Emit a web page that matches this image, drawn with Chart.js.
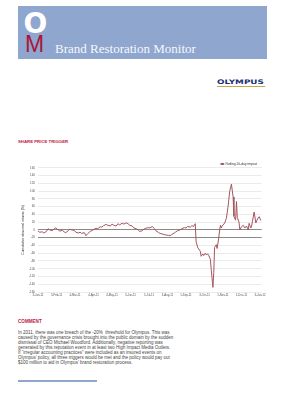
<!DOCTYPE html>
<html>
<head>
<meta charset="utf-8">
<script src="https://cdn.jsdelivr.net/npm/chart.js@4/dist/chart.umd.min.js"></script>
<style>
html, body { margin: 0; padding: 0; background: #fff; }
body { width: 284px; height: 400px; position: relative; overflow: hidden; font-family: "Liberation Sans", Arial, sans-serif; }
.abs { position: absolute; white-space: nowrap; }
#banner { left: 18px; top: 6px; width: 249px; height: 53px; background: #8fa6ce; }
#logoO { left: 23.6px; top: 9.6px; font: bold 28px/28px "DejaVu Sans", sans-serif; color: #fff; }
#logoM { left: 25px; top: 33.2px; font: 23px/23px "Liberation Sans", sans-serif; color: #a8173a; }
#bannerTitle { left: 55px; top: 41.8px; font: 13px/13px "Liberation Serif", serif; color: #f6f8fc; }
#olympus { left: 216.7px; top: 79.2px; font: bold 6.3px/6.3px "DejaVu Sans", sans-serif; color: #1d2f6f; transform: scaleX(1.4); transform-origin: left top; }
#olyLine { left: 217px; top: 85.5px; width: 48px; height: 1px; background: #c9a84a; }
.head { font: bold 4.3px/5px "Liberation Sans", sans-serif; color: #c0203f; }
#trigger { left: 18px; top: 138.5px; }
#comment { left: 18px; top: 318.5px; font-size: 4.6px; }
#body { left: 18px; top: 330.2px; font: 4.5px/5px "Liberation Sans", sans-serif; color: #444; }
#rule { left: 18px; top: 380px; width: 79px; height: 2px; background: #8fa6ce; }
#chartBox { left: 0; top: 150px; width: 284px; height: 160px; }
</style>
</head>
<body>
<div class="abs" id="banner"></div>
<div class="abs" id="logoO">O</div>
<div class="abs" id="logoM">M</div>
<div class="abs" id="bannerTitle">Brand Restoration Monitor</div>
<div class="abs" id="olympus">OLYMPUS</div>
<div class="abs" id="olyLine"></div>
<div class="abs head" id="trigger">SHARE PRICE TRIGGER</div>
<div class="abs" id="chartBox"><canvas id="lineChart" width="284" height="160"></canvas></div>
<div class="abs head" id="comment">COMMENT</div>
<div class="abs" id="body">In 2011, there was one breach of the -20%&nbsp; threshold for Olympus. This was<br>caused by the governance crisis brought into the public domain by the sudden<br>dismissal of CEO Michael Woodford. Additionally, negative reporting was<br>generated by this reputation event in at least two High Impact Media Outlets.<br>If “irregular accounting practices” were included as an insured events on<br>Olympus’ policy, all three triggers would be met and the policy would pay out<br>$100 million to aid in Olympus’ brand restoration process.</div>
<div class="abs" id="rule"></div>

<script>
// trading day index from 3-Jan-11
const days = [
    0, 2, 5, 7, 10, 12, 14, 17, 19, 21,
    24, 26, 29, 31, 33, 36, 38, 40, 43, 45,
    48, 50, 52, 55, 57, 59, 62, 64, 67, 69,
    71, 74, 76, 78, 81, 83, 86, 88, 90, 93,
    95, 97, 100, 102, 105, 107, 109, 112, 114, 117,
    119, 121, 124, 126, 128, 131, 133, 136, 138, 140,
    143, 145, 147, 150, 152, 155, 157, 159, 162, 164,
    166, 169, 171, 174, 176, 178, 181, 183, 185, 187,
    188, 190, 193, 194, 196, 197, 199, 200, 202, 203,
    205, 206, 208, 209, 210, 212, 213, 215, 216, 217,
    218, 219, 221, 222, 224, 226, 228, 230, 232, 233,
    235, 236, 237, 239, 240, 242, 244, 246, 248, 250,
    251, 253, 254, 255, 257, 259, 261, 263, 265
];

const impact = [
    -3, -6, -5, -8, -4, 3, 0, -2, 2, 5,
    0, -3, -1, -5, -7, -2, 2, 0, -1, -6,
    -8, -6, -9, -7, -15, -10, -4, -2, 2, 4,
    3, 8, 7, 11, 14, 12, 10, 15, 12, 10,
    16, 13, 17, 15, 18, 16, 12, 10, 5, 3,
    0, -4, -2, 2, 4, 6, 5, 9, 4, -2,
    -6, -9, -10, -12, -13, -14, -15, -12, -8, -5,
    -2, 0, 3, 6, 5, 9, 7, 11, 9, 16,
    -30, -46, -55, -68, -62, -66, -60, -64, -62, -66,
    -76, -103, -148, -110, -45, -38, -48, -20, 0, 12,
    5, 10, 15, 18, 30, 60, 100, 118, 85, 35,
    25, 73, 32, 20, 0, 8, 12, 5, 10, 0,
    17, 5, 10, 22, 46, 18, 28, 34, 24
];

const tickDays = [0, 22, 44, 66, 88, 110, 132, 154, 176, 198, 220, 242, 264];
const tickLabels = ['3-Jan-11', '3-Feb-11', '4-Mar-11', '4-Apr-11', '4-May-11', '3-Jun-11', '5-Jul-11',
    '3-Aug-11', '1-Sep-11', '3-Oct-11', '1-Nov-11', '1-Dec-11', '3-Jan-12'];

// thresholds drawn darker
const refLines = [0, -20];

// legend sits just above the plot, closer than chart.js would put it
const legendNudge = {
    id: 'legendNudge',
    afterLayout(chart) {
        const lg = chart.legend;
        lg.top += 7.8; lg.bottom += 7.8;
        lg.left -= 4.5; lg.right -= 4.5;
    }
};

const ctx = document.getElementById('lineChart').getContext('2d');
new Chart(ctx, {
    type: 'line',
    data: {
        datasets: [{
            label: 'Rolling 20-day impact',
            data: days.map((d, i) => ({ x: d, y: impact[i] })),
            borderColor: '#a3575e',
            backgroundColor: '#c9959a',
            borderWidth: 1,
            pointRadius: 0,
            tension: 0
        }]
    },
    plugins: [legendNudge],
    options: {
        responsive: false,
        animation: false,
        layout: { padding: { top: 4.5, right: 22.3, left: 0, bottom: 0 } },
        plugins: {
            legend: {
                position: 'top',
                align: 'end',
                labels: {
                    boxWidth: 3,
                    boxHeight: 1,
                    padding: 0,
                    color: '#333',
                    font: { size: 3.3, family: 'Liberation Sans' }
                }
            },
            tooltip: { enabled: false }
        },
        scales: {
            x: {
                type: 'linear',
                min: 0,
                max: 266,
                afterBuildTicks: scale => { scale.ticks = tickDays.map(v => ({ value: v })); },
                afterFit: scale => { scale.height = 18; },
                grid: { display: false, drawTicks: false },
                border: { display: false },
                ticks: {
                    autoSkip: false,
                    maxRotation: 0,
                    padding: 2,
                    color: '#555',
                    font: { size: 2.8, family: 'Liberation Sans' },
                    callback: v => tickLabels[tickDays.indexOf(v)]
                }
            },
            y: {
                min: -160,
                max: 160,
                afterFit: scale => { scale.width = 38; },
                grid: {
                    drawTicks: false,
                    color: c => refLines.includes(c.tick.value) ? '#8a8a8a' : '#ebebeb',
                    lineWidth: 1
                },
                border: { display: false },
                ticks: {
                    stepSize: 20,
                    padding: 3,
                    color: '#555',
                    font: { size: 3, family: 'Liberation Sans' }
                },
                title: {
                    display: true,
                    text: 'Cumulative abnormal returns (%)',
                    color: '#333',
                    font: { size: 3.4, family: 'Liberation Sans' },
                    padding: { top: 20.6, bottom: 0 }
                }
            }
        }
    }
});
</script>
</body>
</html>
